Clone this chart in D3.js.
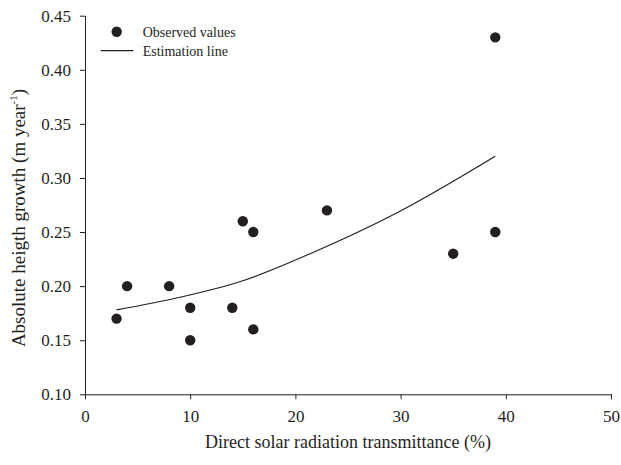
<!DOCTYPE html>
<html>
<head>
<meta charset="utf-8">
<script src="https://cdn.jsdelivr.net/npm/d3@7"></script>
<style>
  body { margin: 0; background: #fff; }
  svg text { font-family: "Liberation Serif", "Times New Roman", serif; fill: #231f20; }
</style>
</head>
<body>
<svg id="chart" width="621" height="465"></svg>
<script>
// Observed values (transmittance %, growth m/year)
const obsX = [3, 4, 8, 10, 10, 14, 15, 16, 16, 23, 35, 39, 39];
const obsY = [0.17, 0.20, 0.20, 0.18, 0.15, 0.18, 0.26, 0.25, 0.16, 0.27, 0.23, 0.43, 0.25];

// Estimation line
const estX = [3, 8.7, 15, 21.4, 29.9, 39];
const estY = [0.178, 0.189, 0.205, 0.230, 0.269, 0.320];

const xTicks = [0, 10, 20, 30, 40, 50];
const yTicks = [0.10, 0.15, 0.20, 0.25, 0.30, 0.35, 0.40, 0.45];

const svg = d3.select("#chart");

// plot area
const plotLeft = 85, plotRight = 611, plotTop = 15.7, plotBottom = 394.3;

const xScale = d3.scaleLinear().domain([0, 50]).range([plotLeft, plotRight]);
const yScale = d3.scaleLinear().domain([0.10, 0.45]).range([plotBottom, plotTop]);

// axes
const xAxis = d3.axisBottom(xScale).tickValues(xTicks).tickFormat(d3.format("d"))
  .tickSizeInner(5).tickSizeOuter(0).tickPadding(11);
const yAxis = d3.axisLeft(yScale).tickValues(yTicks).tickFormat(d3.format(".2f"))
  .tickSizeInner(5).tickSizeOuter(0).tickPadding(9);

const gx = svg.append("g").attr("transform", `translate(0, ${plotBottom})`).call(xAxis);
const gy = svg.append("g").attr("transform", `translate(${plotLeft}, 0)`).call(yAxis);

[gx, gy].forEach(g => {
  g.selectAll("path, line").attr("stroke", "#231f20").attr("stroke-width", 1);
  g.selectAll("text").attr("font-size", 17)
    .style("font-family", '"Liberation Serif", serif').attr("fill", "#231f20");
});

// estimation line
const line = d3.line()
  .x((d, i) => xScale(estX[i]))
  .y((d, i) => yScale(estY[i]))
  .curve(d3.curveMonotoneX);

svg.append("path")
  .datum(estX)
  .attr("d", line)
  .attr("fill", "none")
  .attr("stroke", "#231f20")
  .attr("stroke-width", 1.2);

// observed points
svg.selectAll(".pt")
  .data(obsX)
  .enter()
  .append("circle")
  .attr("class", "pt")
  .attr("cx", d => xScale(d))
  .attr("cy", (d, i) => yScale(obsY[i]))
  .attr("r", 5.2)
  .attr("fill", "#231f20");

// legend
svg.append("circle").attr("cx", 116.7).attr("cy", 31.7).attr("r", 5.2).attr("fill", "#231f20");
svg.append("text").attr("x", 142.7).attr("y", 36.5).attr("font-size", 14).text("Observed values");
svg.append("line").attr("x1", 100.7).attr("x2", 133.3).attr("y1", 50.7).attr("y2", 50.7)
  .attr("stroke", "#231f20").attr("stroke-width", 1.2);
svg.append("text").attr("x", 142.7).attr("y", 55.5).attr("font-size", 14).text("Estimation line");

// axis titles
svg.append("text")
  .attr("x", (plotLeft + plotRight) / 2)
  .attr("y", 448)
  .attr("text-anchor", "middle")
  .attr("font-size", 18)
  .text("Direct solar radiation transmittance (%)");

const yTitle = svg.append("text")
  .attr("transform", `translate(25, 218) rotate(-90)`)
  .attr("text-anchor", "middle")
  .attr("font-size", 19);
yTitle.append("tspan").text("Absolute heigth growth (m year");
yTitle.append("tspan").attr("font-size", 11).attr("dy", -8).text("-1");
yTitle.append("tspan").attr("dy", 8).text(")");
</script>
</body>
</html>
